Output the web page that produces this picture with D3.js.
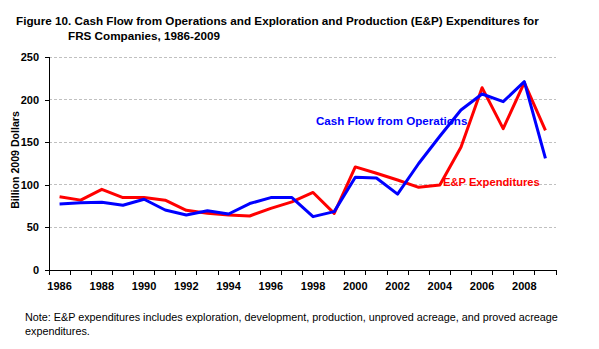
<!DOCTYPE html>
<html><head><meta charset="utf-8">
<script src="https://cdn.jsdelivr.net/npm/d3@7"></script>
<style>
body{margin:0;background:#fff;}
text{font-family:Arial,"Liberation Sans",sans-serif;}
</style></head>
<body><svg id="c" width="599" height="349"></svg>
<script>
const years = ["1986","1987","1988","1989","1990","1991","1992","1993","1994","1995","1996","1997","1998","1999","2000","2001","2002","2003","2004","2005","2006","2007","2008","2009"];
const cashFlow = [77.5,79,79.4,76,83,70.4,64.6,69.6,65.7,78,85,85,62.6,68.5,108.8,108,89,125,157,187.8,206.6,197.6,221,131];
const epExp = [86,82,94.7,85,85,82,70,66.5,64.6,63.4,72.4,80,91,66.5,121,113.5,105.6,97,99.8,144,214,166,220,164];
const yTicks = [0,50,100,150,200,250];

const svg = d3.select("#c");
const L = 49, R = 556, T = 57, B = 270;
const x = d3.scaleBand().domain(years).range([L, R]).padding(0);
const y = d3.scaleLinear().domain([0, 250]).range([B, T]);
const cx = d => x(d) + x.bandwidth() / 2;

// gridlines
svg.append("g").selectAll("line").data(yTicks.filter(v => v > 0)).join("line")
  .attr("x1", L).attr("x2", R).attr("y1", d => y(d)).attr("y2", d => y(d))
  .attr("stroke", "#c0c0c0").attr("stroke-width", 1).attr("stroke-dasharray", "3,2")
  .attr("shape-rendering", "crispEdges");

// y axis
const ya = svg.append("g").attr("transform", `translate(${L},0)`)
  .call(d3.axisLeft(y).tickValues(yTicks).tickSize(4).tickPadding(6).tickFormat(d3.format("d")));
ya.select(".domain").attr("stroke", "#000").attr("d", `M0,${B}V${T}`);
ya.selectAll("line").attr("stroke", "#000");
ya.selectAll("text").attr("font-size", "11px").attr("font-weight", "bold").attr("fill", "#000")
  .style("font-family", "Arial, 'Liberation Sans', sans-serif");
ya.attr("shape-rendering", "crispEdges");

// x axis
const xa = svg.append("g").attr("transform", `translate(0,${B})`)
  .call(d3.axisBottom(x).tickValues(years.filter((d, i) => i % 2 === 0)).tickSize(0).tickPadding(12));
xa.select(".domain").attr("stroke", "#000").attr("d", `M${L},0H${R}`);
xa.selectAll("text").attr("font-size", "11px").attr("font-weight", "bold").attr("fill", "#000")
  .style("font-family", "Arial, 'Liberation Sans', sans-serif");
xa.attr("shape-rendering", "crispEdges");
const bounds = years.map(d => x(d)).concat([R]);
xa.append("g").selectAll("line").data(bounds).join("line")
  .attr("x1", d => d).attr("x2", d => d).attr("y1", 0).attr("y2", 5)
  .attr("stroke", "#000").attr("shape-rendering", "crispEdges");

// lines
const line = d3.line().x((d, i) => cx(years[i])).y(d => y(d));
svg.append("path").datum(epExp).attr("d", line)
  .attr("fill", "none").attr("stroke", "#ff0000").attr("stroke-width", 3).attr("stroke-linejoin", "round");
svg.append("path").datum(cashFlow).attr("d", line)
  .attr("fill", "none").attr("stroke", "#0000ff").attr("stroke-width", 3).attr("stroke-linejoin", "round");

// series labels
svg.append("text").attr("x", 316).attr("y", 125).attr("font-size", "11.6px").attr("font-weight", "bold")
  .attr("fill", "#0000ff").text("Cash Flow from Operations");
svg.append("text").attr("x", 443).attr("y", 186).attr("font-size", "11.2px").attr("font-weight", "bold")
  .attr("fill", "#ff0000").text("E&P Expenditures");

// y title
svg.append("text").attr("transform", "translate(19,160) rotate(-90)").attr("text-anchor", "middle")
  .attr("font-size", "10.6px").attr("font-weight", "bold").text("Billion 2009 Dollars");

// title
svg.append("text").attr("x", 16).attr("y", 25).attr("font-size", "11.7px").attr("font-weight", "bold")
  .text("Figure 10. Cash Flow from Operations and Exploration and Production (E&P) Expenditures for");
svg.append("text").attr("x", 68).attr("y", 40).attr("font-size", "11.7px").attr("font-weight", "bold")
  .text("FRS Companies, 1986-2009");

// note
svg.append("text").attr("x", 25).attr("y", 321).attr("font-size", "10.8px")
  .text("Note: E&P expenditures includes exploration, development, production, unproved acreage, and proved acreage");
svg.append("text").attr("x", 25).attr("y", 335).attr("font-size", "10.8px").text("expenditures.");
</script></body></html>
